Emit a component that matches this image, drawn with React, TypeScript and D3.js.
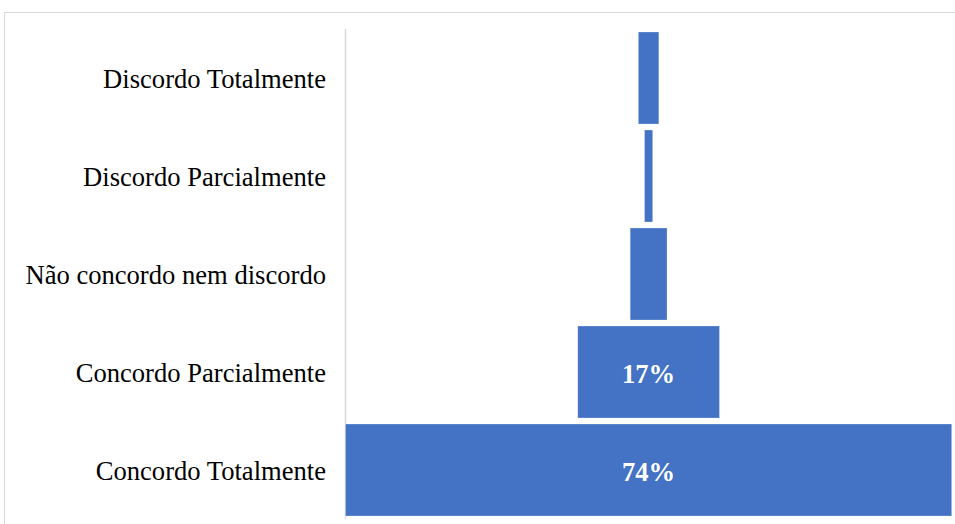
import React from "react";
import * as d3 from "d3";

const categories = [
  "Discordo Totalmente",
  "Discordo Parcialmente",
  "Não concordo nem discordo",
  "Concordo Parcialmente",
  "Concordo Totalmente",
];
const values = [2.5, 1.0, 4.5, 17.3, 74];
const labels = ["", "", "", "17%", "74%"];

const W = 955;
const H = 524;

export default function App() {
  const axisX = 345.5;
  const right = 951.7;
  const center = (axisX + right) / 2;
  const maxV = d3.max(values) as number;
  const w = d3.scaleLinear().domain([0, maxV]).range([0, right - axisX]);
  const y = d3
    .scaleBand<string>()
    .domain(categories)
    .range([29, 519])
    .paddingInner(0.0612)
    .paddingOuter(0.0306);

  return (
    <svg
      width={W}
      height={H}
      style={{ position: "absolute", left: 0, top: 0, background: "#fff" }}
    >
      <rect x={4.5} y={12.5} width={1000} height={1000} fill="none" stroke="#d9d9d9" strokeWidth={1} />
      <line x1={axisX} x2={axisX} y1={29} y2={519} stroke="#d9d9d9" strokeWidth={1.5} />
      {categories.map((c, i) => {
        const bw = w(values[i]);
        const by = y(c) as number;
        return (
          <g key={c}>
            <rect
              x={center - bw / 2}
              y={by}
              width={bw}
              height={y.bandwidth()}
              fill="#4472C4"
              stroke="#ffffff"
              strokeOpacity={0.35}
              strokeWidth={0.75}
            />
            <text
              x={326}
              y={by + y.bandwidth() / 2}
              dy="0.39em"
              textAnchor="end"
              fontFamily="'Liberation Serif', 'Times New Roman', serif"
              fontSize={26.6}
              fill="#000"
            >
              {c}
            </text>
            {labels[i] && (
              <text
                x={center}
                y={by + y.bandwidth() / 2}
                dy="0.4em"
                textAnchor="middle"
                fontFamily="'Liberation Serif', 'Times New Roman', serif"
                fontSize={26.6}
                fontWeight="bold"
                fill="#fff"
              >
                {labels[i]}
              </text>
            )}
          </g>
        );
      })}
    </svg>
  );
}
